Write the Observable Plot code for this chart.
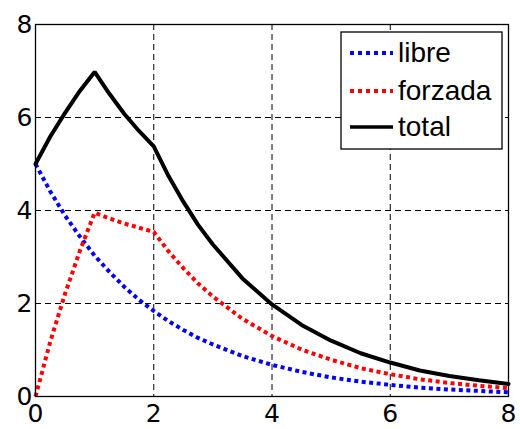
<!DOCTYPE html>
<html><head><meta charset="utf-8">
<script src="https://cdn.jsdelivr.net/npm/d3@7"></script>
<script src="https://cdn.jsdelivr.net/npm/@observablehq/plot@0.6"></script>
<style>
body{margin:0;background:#fff;}
#wrap{position:relative;width:520px;height:429px;}
#legend{position:absolute;left:340px;top:31px;}
</style>
</head><body>
<div id="wrap"></div>
<script>
const t       = [0,0.25,0.5,0.75,1,1.25,1.5,1.75,2,2.25,2.5,2.75,3,3.5,4,4.5,5,5.5,6,6.5,7,7.5,8];
const libre   = [5,4.41,3.89,3.44,3.03,2.68,2.36,2.08,1.84,1.62,1.43,1.26,1.12,0.87,0.68,0.53,0.41,0.32,0.25,0.19,0.15,0.12,0.09];
const forzada = [0,1.18,2.21,3.13,3.95,3.83,3.72,3.63,3.54,3.12,2.76,2.43,2.15,1.67,1.30,1.01,0.79,0.61,0.48,0.37,0.29,0.23,0.18];
const total   = [5,5.59,6.10,6.57,6.98,6.51,6.08,5.71,5.38,4.74,4.19,3.69,3.27,2.54,1.98,1.54,1.20,0.93,0.73,0.56,0.44,0.35,0.27];
const xTicks  = [0,2,4,6,8];
const yTicks  = [0,2,4,6,8];
const seriesNames  = ["libre","forzada","total"];
const seriesColors = ["#0000ff","#ff0000","#000000"];

const mk = ys => t.map((x,i)=>({x, y: ys[i]}));
const dotted = {strokeWidth:4, strokeDasharray:"4,3.5", strokeLinecap:"butt", strokeLinejoin:"miter"};

const chart = Plot.plot({
  width:520, height:429,
  marginLeft:35, marginRight:12, marginTop:24, marginBottom:33,
  x:{domain:[0,8], ticks:xTicks, tickSize:0, tickPadding:8, label:null},
  y:{domain:[0,8], ticks:yTicks, tickSize:0, tickPadding:3, label:null},
  style:{fontFamily:"'DejaVu Sans', sans-serif", fontSize:"25px", color:"black", background:"white"},
  marks:[
    Plot.ruleX(xTicks.slice(1,-1), {stroke:"black", strokeWidth:1, strokeDasharray:"6,4"}),
    Plot.ruleY(yTicks.slice(1,-1), {stroke:"black", strokeWidth:1, strokeDasharray:"6,4"}),
    Plot.line(mk(libre), {x:"x", y:"y", stroke:seriesColors[0], ...dotted}),
    Plot.line(mk(forzada), {x:"x", y:"y", stroke:seriesColors[1], ...dotted}),
    Plot.line(mk(total), {x:"x", y:"y", stroke:seriesColors[2], strokeWidth:4, strokeLinejoin:"miter"}),
    Plot.frame({stroke:"black", strokeWidth:1.3})
  ]
});
const wrap = document.getElementById("wrap");
wrap.appendChild(chart);

// legend
const ns = "http://www.w3.org/2000/svg";
const lg = document.createElementNS(ns,"svg");
lg.setAttribute("id","legend");
lg.setAttribute("width",164); lg.setAttribute("height",120);
const rect = document.createElementNS(ns,"rect");
rect.setAttribute("x",1); rect.setAttribute("y",1); rect.setAttribute("width",161); rect.setAttribute("height",117);
rect.setAttribute("fill","white"); rect.setAttribute("stroke","black"); rect.setAttribute("stroke-width",1.3);
lg.appendChild(rect);
const rowY = [22, 60, 96];
seriesNames.forEach((name,i)=>{
  const ln = document.createElementNS(ns,"line");
  ln.setAttribute("x1",10); ln.setAttribute("x2",53);
  ln.setAttribute("y1",rowY[i]); ln.setAttribute("y2",rowY[i]);
  ln.setAttribute("stroke",seriesColors[i]);
  ln.setAttribute("stroke-width", i<2 ? 4 : 3.5);
  if(i<2){ ln.setAttribute("stroke-dasharray","4,4"); }
  lg.appendChild(ln);
  const tx = document.createElementNS(ns,"text");
  tx.setAttribute("x",58); tx.setAttribute("y",rowY[i]+9);
  tx.setAttribute("font-family","'Liberation Sans', Arial, sans-serif");
  tx.setAttribute("font-size","28px");
  tx.setAttribute("fill","black");
  tx.textContent = name;
  lg.appendChild(tx);
});
wrap.appendChild(lg);
</script>
</body></html>
